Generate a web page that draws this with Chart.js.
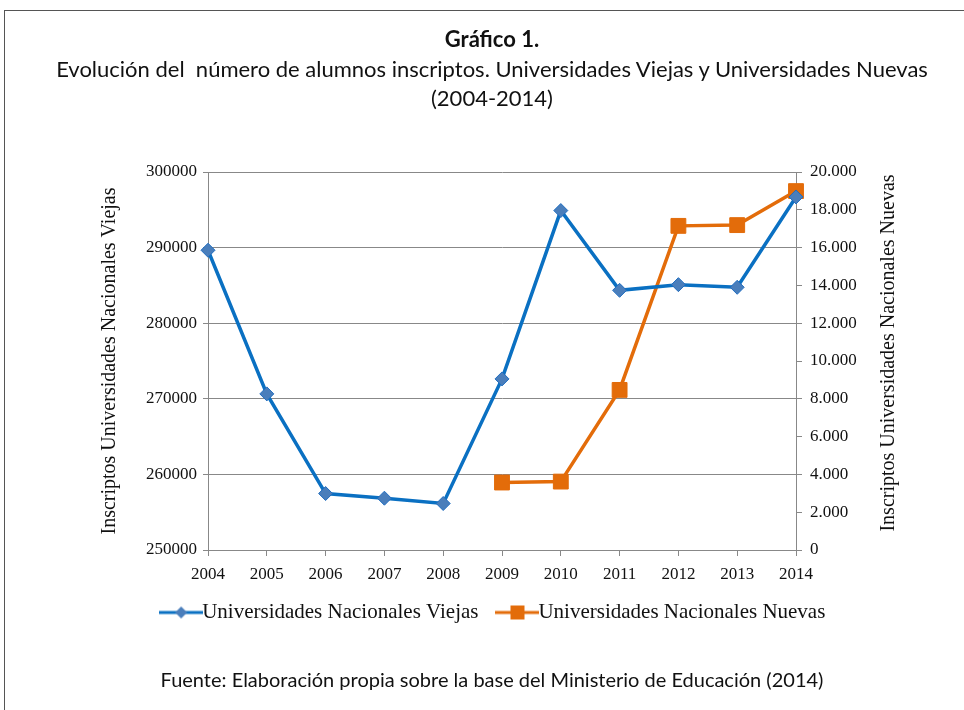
<!DOCTYPE html>
<html>
<head>
<meta charset="utf-8">
<script src="https://cdn.jsdelivr.net/npm/chart.js@4/dist/chart.umd.min.js"></script>
<style>
  html, body { margin: 0; padding: 0; background: #fff; }
  #wrap { position: relative; width: 964px; height: 710px; overflow: hidden; }
  #frame { position: absolute; left: 4px; top: 10px; width: 1000px; height: 800px;
           border-left: 1px solid #555; border-top: 1px solid #555; }
  .txt { position: absolute; left: 10px; width: 964px; text-align: center;
         font-family: Lato, "Open Sans", sans-serif; color: #111; line-height: 1; }
  #y1title { position: absolute; left: 887px; top: 343px; width: 400px; margin-left: -200px;
             text-align: center; transform: rotate(-90deg); line-height: 1;
             font-family: "Liberation Serif", "Times New Roman", serif; font-size: 20px; color: #111; }
  canvas { position: absolute; left: 0; top: 0; }
</style>
</head>
<body>
<div id="wrap">
  <div id="frame"></div>
  <canvas id="chart" width="964" height="710"></canvas>
  <div class="txt" style="top:28px;font-size:22px;font-weight:bold;">Gráfico 1.</div>
  <div class="txt" style="top:58px;font-size:22px;">Evolución del&nbsp; número de alumnos inscriptos. Universidades Viejas y Universidades Nuevas</div>
  <div class="txt" style="top:87px;font-size:22px;">(2004-2014)</div>
  <div class="txt" style="top:669px;font-size:20px;">Fuente: Elaboración propia sobre la base del Ministerio de Educación (2014)</div>
  <div id="y1title">Inscriptos Universidades Nacionales Nuevas</div>
</div>
<script>
const years = ['2004', '2005', '2006', '2007', '2008', '2009', '2010', '2011', '2012', '2013', '2014'];
const viejas = [289650, 270650, 257470, 256850, 256150, 272630, 294900, 284350, 285100, 284750, 296700];
const nuevas = [null, null, null, null, null, 3570, 3620, 8470, 17150, 17190, 18990];
const viejasLabel = 'Universidades Nacionales Viejas';
const nuevasLabel = 'Universidades Nacionales Nuevas';

const serif = '"Liberation Serif", "Times New Roman", serif';

// legend swatch: short line with the marker in the middle
function swatch(color, fill, shape) {
  const c = document.createElement('canvas');
  c.width = 44; c.height = 16;
  const g = c.getContext('2d');
  g.strokeStyle = color; g.lineWidth = 3;
  g.beginPath(); g.moveTo(0, 8); g.lineTo(44, 8); g.stroke();
  g.fillStyle = fill;
  g.beginPath();
  if (shape === 'diamond') {
    g.moveTo(22, 2); g.lineTo(28, 8); g.lineTo(22, 14); g.lineTo(16, 8);
  } else {
    g.rect(15, 1, 14, 14);
  }
  g.closePath(); g.fill();
  return c;
}

const ctx = document.getElementById('chart').getContext('2d');
new Chart(ctx, {
  type: 'line',
  data: {
    labels: years,
    datasets: [
      {
        label: viejasLabel,
        data: viejas,
        yAxisID: 'y',
        borderColor: '#0A70C2',
        borderWidth: 3.5,
        pointStyle: 'rectRot',
        pointRadius: 7,
        pointBackgroundColor: '#4A7EBB',
        pointBorderColor: '#1F6DC0',
        pointBorderWidth: 1,
        tension: 0
      },
      {
        label: nuevasLabel,
        data: nuevas,
        yAxisID: 'y1',
        borderColor: '#E36C0A',
        borderWidth: 3.5,
        pointStyle: 'rect',
        pointRadius: 10.5,
        pointBackgroundColor: '#E36C0A',
        pointBorderColor: '#E36C0A',
        pointBorderWidth: 1,
        tension: 0
      }
    ]
  },
  options: {
    responsive: false,
    animation: false,
    layout: { padding: { top: 172, left: 94, right: 62, bottom: 77 } },
    plugins: {
      tooltip: { enabled: false },
      legend: {
        position: 'bottom',
        labels: {
          usePointStyle: true,
          padding: 18,
          color: '#111',
          font: { family: serif, size: 21 },
          generateLabels: chart => [
            { text: viejasLabel + '  ', pointStyle: swatch('#0A70C2', '#4A7EBB', 'diamond'), datasetIndex: 0, fontColor: '#111', lineWidth: 0, strokeStyle: 'rgba(0,0,0,0)', fillStyle: 'rgba(0,0,0,0)' },
            { text: nuevasLabel, pointStyle: swatch('#E36C0A', '#E36C0A', 'square'), datasetIndex: 1, fontColor: '#111', lineWidth: 0, strokeStyle: 'rgba(0,0,0,0)', fillStyle: 'rgba(0,0,0,0)' }
          ]
        }
      }
    },
    scales: {
      x: {
        offset: false,
        grid: { drawOnChartArea: false, drawTicks: true, tickLength: 6, color: '#888' },
        border: { color: '#888' },
        ticks: { color: '#111', font: { family: serif, size: 17 }, padding: 8, maxRotation: 0 },
        afterFit: s => { s.height = 34; }
      },
      y: {
        position: 'left',
        min: 250000,
        max: 300000,
        ticks: { stepSize: 10000, color: '#111', font: { family: serif, size: 17 }, padding: 6, callback: v => String(v) },
        grid: { color: '#888', tickLength: 5 },
        border: { color: '#888' },
        title: { display: true, text: 'Inscriptos Universidades Nacionales Viejas', color: '#111', font: { family: serif, size: 20 } },
        afterFit: s => { s.width = 114; }
      },
      y1: {
        position: 'right',
        min: 0,
        max: 20000,
        ticks: {
          stepSize: 2000, color: '#111', font: { family: serif, size: 17 }, padding: 8,
          callback: v => v === 0 ? '0' : Math.floor(v / 1000) + '.' + String(v % 1000).padStart(3, '0')
        },
        grid: { drawOnChartArea: false, color: '#888', tickLength: 6 },
        border: { color: '#888' },
        afterFit: s => { s.width = 106; }
      }
    }
  }
});
</script>
</body>
</html>
